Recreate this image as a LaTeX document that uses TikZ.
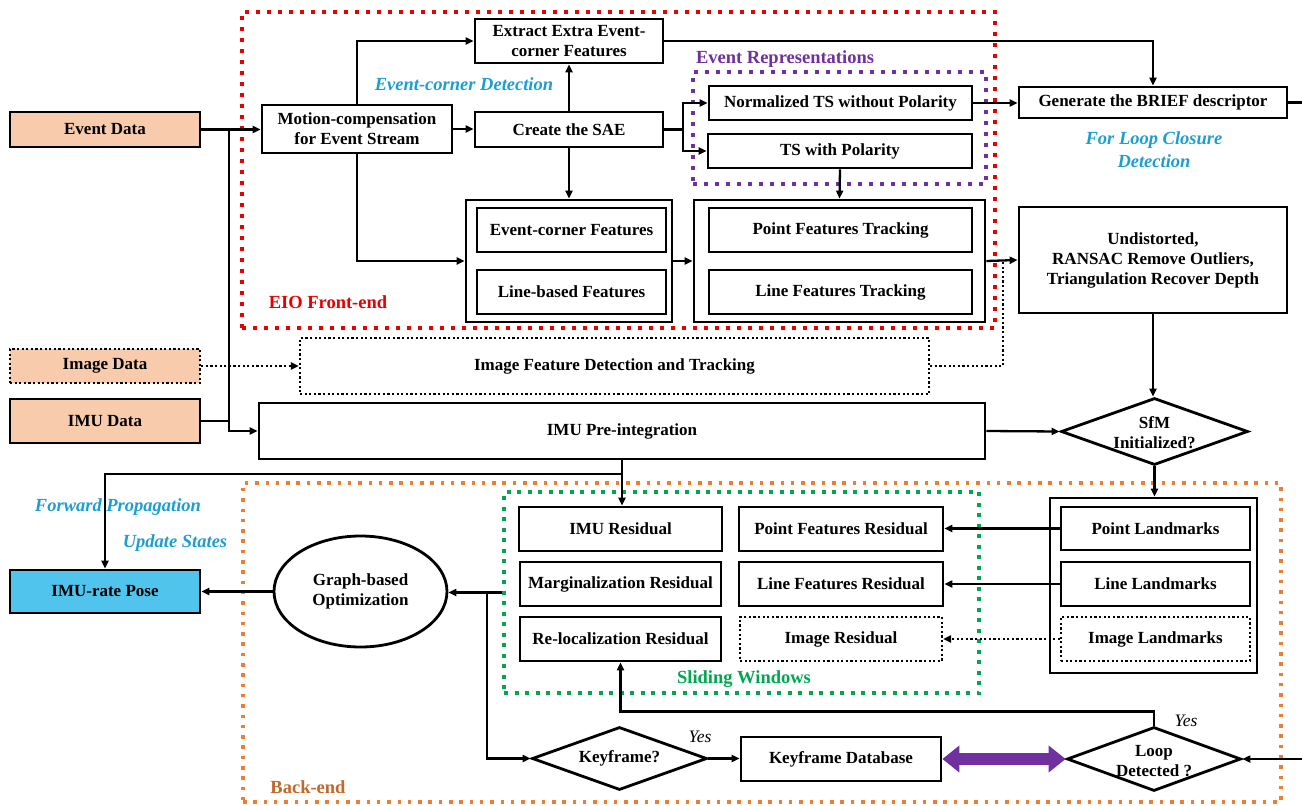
\documentclass[tikz,border=0pt]{standalone}
\usepackage{fontspec}
\setmainfont{Liberation Serif}
\usetikzlibrary{arrows.meta,shapes.geometric,calc}
\definecolor{peach}{RGB}{248,203,173}
\definecolor{skyb}{RGB}{80,196,236}
\definecolor{lblue}{RGB}{28,158,210}
\definecolor{fred}{RGB}{230,0,0}
\definecolor{fpurple}{RGB}{112,48,160}
\definecolor{fgreen}{RGB}{0,166,81}
\definecolor{forange}{RGB}{237,125,49}
\definecolor{borange}{RGB}{196,104,40}
\begin{document}
\begin{tikzpicture}[x=1pt,y=-1pt,
  txt/.style={inner sep=0pt, align=center, font=\bfseries\fontsize{17}{20}\selectfont},
  box/.style={txt, draw, line width=2.8pt},
  dbox/.style={txt, draw, line width=2.2pt, dash pattern=on 2.2pt off 2.4pt},
  diam/.style={draw, diamond, line width=2.8pt, inner sep=0pt},
  frame/.style={draw, line width=4pt, inner sep=0pt, dash pattern=on 4pt off 7pt},
  lab/.style={inner sep=0pt, font=\bfseries\fontsize{18.5}{22}\selectfont},
  ilab/.style={inner sep=0pt, align=center, text=lblue, font=\bfseries\itshape\fontsize{18.5}{23}\selectfont},
  yes/.style={inner sep=0pt, font=\itshape\fontsize{17.5}{20}\selectfont},
  conn/.style={line width=2.3pt},
  arr/.style={conn, -{Triangle[length=8pt,width=7pt]}},
  darr/.style={line width=2.2pt, dash pattern=on 2.2pt off 2.4pt, -{Triangle[length=8pt,width=7pt]}},
  dline/.style={line width=2.2pt, dash pattern=on 2.2pt off 2.4pt},
  fat/.style={line width=12pt, draw=fpurple, {Triangle[length=17pt,width=26pt]}-{Triangle[length=17pt,width=26pt]}}
]
\useasboundingbox (0,0) rectangle (1302,806);

% frames
\node[frame, draw=fred, minimum width=753pt, minimum height=316pt] (eio) at (618.5,170) {};
\node[frame, draw=fpurple, minimum width=293pt, minimum height=112pt] (erf) at (839.5,128) {};
\node[frame, draw=forange, line width=3.5pt, dash pattern=on 3.5pt off 6.8pt, minimum width=1038pt, minimum height=319pt] (bef) at (762,642.5) {};
\node[frame, draw=fgreen, dash pattern=on 4pt off 6.5pt, minimum width=475pt, minimum height=201pt] (swf) at (741.5,592.5) {};

% frame labels
\node[lab, text=fred] (eiol) at (328,302) {EIO Front-end};
\node[lab, text=fpurple] (erl) at (785,59) {Event Representations};
\node[lab, text=fgreen] (swl) at (744,679) {Sliding Windows};
\node[lab, text=borange] (bel) at (308,787) {Back-end};
\node[ilab] (ecd) at (464,84) {Event-corner Detection};
\node[ilab] (flc) at (1154,150) {For Loop Closure\\Detection};
\node[ilab] (fp) at (118,507) {Forward Propagation};
\node[ilab] (us) at (175,543) {Update States};
\node[yes] (y1) at (700,737) {Yes};
\node[yes] (y2) at (1186,721) {Yes};

% inputs / output
\node[box, fill=peach, minimum width=190pt, minimum height=35pt] (ev) at (105,129.5) {Event Data};
\node[dbox, fill=peach, minimum width=190pt, minimum height=34pt] (img) at (105,366) {Image Data};
\node[box, fill=peach, minimum width=190pt, minimum height=44pt] (imu) at (105,421) {IMU Data};
\node[box, fill=skyb, minimum width=190pt, minimum height=43pt] (pose) at (105,591.5) {IMU-rate Pose};

% front-end
\node[box, minimum width=190pt, minimum height=48pt] (mc) at (357,129) {Motion-compensation\\for Event Stream};
\node[box, minimum width=188pt, minimum height=44pt] (ext) at (569,41) {Extract Extra Event-\\corner Features};
\node[box, minimum width=188pt, minimum height=35pt] (sae) at (569,129.5) {Create the SAE};
\node[box, minimum width=206pt, minimum height=122pt] (c1) at (569,261) {};
\node[box, minimum width=189pt, minimum height=44pt] (ecf) at (571.5,230) {Event-corner Features};
\node[box, minimum width=189pt, minimum height=44pt] (lbf) at (571.5,292) {Line-based Features};
\node[box, minimum width=291pt, minimum height=122pt] (c2) at (839.5,261) {};
\node[box, minimum width=263pt, minimum height=44pt] (pft) at (840.5,230) {Point Features Tracking};
\node[box, minimum width=263pt, minimum height=44pt] (lft) at (840.5,292) {Line Features Tracking};
\node[box, minimum width=263pt, minimum height=34pt] (nts) at (840.5,103) {Normalized TS without Polarity};
\node[box, minimum width=264pt, minimum height=34pt] (tsp) at (840,151) {TS with Polarity};
\node[box, minimum width=268pt, minimum height=31pt] (brief) at (1153,102.5) {Generate the BRIEF descriptor};
\node[box, minimum width=268pt, minimum height=106pt] (und) at (1153,260) {Undistorted,\\RANSAC Remove Outliers,\\Triangulation Recover Depth};
\node[dbox, minimum width=629pt, minimum height=56pt] (ifd) at (614.5,366) {Image Feature Detection and Tracking};
\node[box, minimum width=726pt, minimum height=56pt] (pre) at (622,431) {IMU Pre-integration};
\node[diam, minimum width=187pt, minimum height=67pt] (sfm) at (1154.5,431.5) {};
\node[txt] (sfmt) at (1154.5,433) {SfM\\Initialized?};

% back-end
\node[box, minimum width=203pt, minimum height=44pt] (imr) at (620.5,529) {IMU Residual};
\node[box, minimum width=201pt, minimum height=44pt] (mar) at (620.5,584) {Marginalization Residual};
\node[box, minimum width=201pt, minimum height=44pt] (rel) at (620.5,639) {Re-localization Residual};
\node[box, minimum width=204pt, minimum height=44pt] (pfr) at (841,529) {Point Features Residual};
\node[box, minimum width=204pt, minimum height=44pt] (lfr) at (841,584) {Line Features Residual};
\node[dbox, minimum width=202pt, minimum height=44pt] (ir) at (841,639) {Image Residual};
\node[box, minimum width=207pt, minimum height=175pt] (lmc) at (1153.5,585.5) {};
\node[box, minimum width=189pt, minimum height=43pt] (pl) at (1155.5,528.5) {Point Landmarks};
\node[box, minimum width=189pt, minimum height=44pt] (ll) at (1155.5,584) {Line Landmarks};
\node[dbox, minimum width=189pt, minimum height=44pt] (il) at (1155.5,639) {Image Landmarks};
\node[txt, draw, ellipse, line width=2.8pt, minimum width=173pt, minimum height=111pt] (gbo) at (360.5,591.5) {Graph-based\\Optimization};
\node[diam, minimum width=175pt, minimum height=63pt] (kf) at (619.5,758.5) {};
\node[txt] (kft) at (619.5,758.5) {Keyframe?};
\node[box, minimum width=200pt, minimum height=44pt] (kdb) at (841,759) {Keyframe Database};
\node[diam, minimum width=174pt, minimum height=64pt] (loop) at (1154,759) {};
\node[txt] (loopt) at (1154,761) {Loop\\Detected ?};

% helper coordinates
\coordinate (jx) at (229,0);
\coordinate (spx) at (683,0);
\coordinate (dv) at (1003,261);
\coordinate (bry) at (0,474);
\coordinate (gx) at (487,0);
\coordinate (rin) at (1302,759);
\coordinate (rout) at (1302,102.5);

% connectors: front-end
\draw[arr] (ev.east) -- (ev.east -| mc.west);
\draw[arr] (ev.east -| jx) |- (pre.west);
\draw[conn] (imu.east) -- (imu.east -| jx);
\draw[darr] (img.east) -- (ifd.west);
\draw[arr] (mc.north) |- (ext.west);
\draw[arr] (mc.east) -- (mc.east -| sae.west);
\draw[arr] (mc.south) |- (c1.west);
\draw[arr] (sae.north) -- (ext.south);
\draw[arr] (sae.south) -- (c1.north);
\draw[conn] (sae.east) -- (sae.east -| spx);
\draw[arr] (sae.east -| spx) |- (nts.west);
\draw[arr] (sae.east -| spx) |- (tsp.west);
\draw[arr] (ext.east) -| (brief.north);
\draw[arr] (nts.east) -- (nts.east -| brief.west);
\draw[arr] (tsp.south) -- (c2.north);
\draw[arr] (c1.east) -- (c2.west);
\draw[arr] (c2.east) -- (und.west);
\draw[dline] (ifd.east) -| (dv);
\draw[conn] (brief.east) -- (rout);
\draw[arr] (und.south) -- (und.south |- sfm.north);
\draw[arr] (pre.east) -- (sfm.west);
\draw[arr] (sfm.south) -- (sfm.south |- lmc.north);

% connectors: back-end
\draw[arr] (pre.south) -- (pre.south |- imr.north);
\draw[arr] (pre.south |- bry) -| (pose.north);
\draw[arr] (pl.west) -- (pl.west -| pfr.east);
\draw[arr] (ll.west) -- (lfr.east);
\draw[darr] (il.west) -- (ir.east);
\draw[arr] (swf.west) -- (swf.west -| gbo.east);
\draw[arr] (swf.west -| gx) |- (kf.west);
\draw[arr] (gbo.west) -- (gbo.west -| pose.east);
\draw[arr] (kf.east) -- (kf.east -| kdb.west);
\draw[arr] (loop.north) -- ++(0,-14) -| (rel.south);
\draw[fat] (kdb.east) -- (loop.west);
\draw[arr] (rin) -- (loop.east);
\end{tikzpicture}
\end{document}
